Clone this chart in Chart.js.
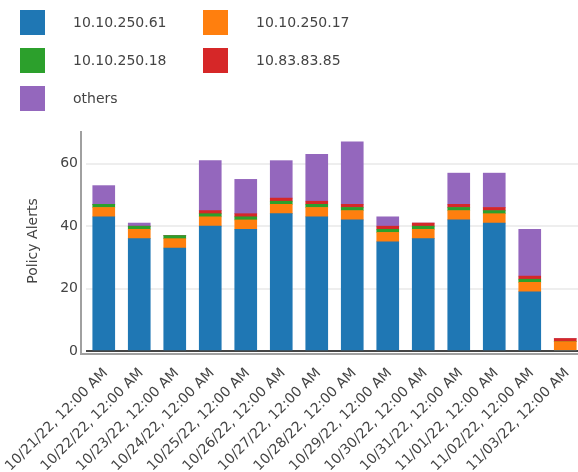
<!DOCTYPE html>
<html>
<head>
<meta charset="utf-8">
<script src="https://cdn.jsdelivr.net/npm/chart.js@4/dist/chart.umd.min.js"></script>
<style>
  html, body { margin: 0; padding: 0; background: #fff; width: 578px; height: 472px; overflow: hidden; }
  #wrap { position: absolute; left: 0; top: 0; width: 590px; height: 472px; }
</style>
</head>
<body>
<div id="wrap"><canvas id="chart" width="590" height="472"></canvas></div>
<script>
// Daily policy alerts per source host
const dates = [
  '10/21/22, 12:00 AM', '10/22/22, 12:00 AM', '10/23/22, 12:00 AM', '10/24/22, 12:00 AM',
  '10/25/22, 12:00 AM', '10/26/22, 12:00 AM', '10/27/22, 12:00 AM', '10/28/22, 12:00 AM',
  '10/29/22, 12:00 AM', '10/30/22, 12:00 AM', '10/31/22, 12:00 AM', '11/01/22, 12:00 AM',
  '11/02/22, 12:00 AM', '11/03/22, 12:00 AM'
];
const hostNames = ['10.10.250.61', '10.10.250.17', '10.10.250.18', '10.83.83.85', 'others'];
const host61 = [43, 36, 33, 40, 39, 44, 43, 42, 35, 36, 42, 41, 19, 0];
const host17 = [3, 3, 3, 3, 3, 3, 3, 3, 3, 3, 3, 3, 3, 3];
const host18 = [1, 1, 1, 1, 1, 1, 1, 1, 1, 1, 1, 1, 1, 0];
const host85 = [0, 0, 0, 1, 1, 1, 1, 1, 1, 1, 1, 1, 1, 1];
const others = [6, 1, 0, 16, 11, 12, 15, 20, 3, 0, 10, 11, 15, 0];
const yTicks = [0, 20, 40, 60];

const palette = ['#1f77b4', '#ff7f0e', '#2ca02c', '#d62728', '#9467bd'];
const seriesValues = [host61, host17, host18, host85, others];
const FONT = 'DejaVu Sans';
const TEXT = '#444';

// Two-column legend drawn above the plot
const gridLegend = {
  id: 'gridLegend',
  afterDraw(chart) {
    const ctx = chart.ctx;
    ctx.save();
    ctx.font = '14px "' + FONT + '"';
    ctx.textBaseline = 'middle';
    ctx.textAlign = 'left';
    chart.data.datasets.forEach((ds, i) => {
      const col = i % 2, row = Math.floor(i / 2);
      const bx = 20 + col * 183, by = 10 + row * 38;
      ctx.fillStyle = ds.backgroundColor;
      ctx.fillRect(bx, by, 25, 25);
      ctx.fillStyle = TEXT;
      ctx.fillText(ds.label, bx + 53, by + 13);
    });
    ctx.restore();
  }
};

// Axis lines set slightly apart from the plot area
const offsetAxes = {
  id: 'offsetAxes',
  afterDatasetsDraw(chart) {
    const { ctx, chartArea } = chart;
    const x0 = chartArea.left - 5;
    const yb = chartArea.bottom + 3;
    ctx.save();
    ctx.strokeStyle = '#a0a0a0';
    ctx.lineWidth = 2;
    ctx.beginPath();
    ctx.moveTo(x0, chartArea.top);
    ctx.lineTo(x0, yb + 1);
    ctx.moveTo(x0 - 1, yb);
    ctx.lineTo(chart.width, yb);
    ctx.stroke();
    ctx.restore();
  }
};

new Chart(document.getElementById('chart'), {
  type: 'bar',
  data: {
    labels: dates,
    datasets: hostNames.map((name, i) => ({
      label: name,
      data: seriesValues[i],
      backgroundColor: palette[i],
      borderWidth: 0,
      barThickness: 22
    }))
  },
  options: {
    responsive: false,
    devicePixelRatio: 1,
    animation: false,
    layout: { padding: { top: 131, right: 7, left: 0, bottom: 0 } },
    plugins: { legend: { display: false }, tooltip: { enabled: false } },
    scales: {
      x: {
        stacked: true,
        offset: true,
        grid: { display: false },
        border: { display: false },
        ticks: {
          minRotation: 45, maxRotation: 45, autoSkip: false,
          color: TEXT, font: { family: FONT, size: 14 }, padding: 6, labelOffset: 2
        },
        afterFit(scale) { scale.height = 121; scale.paddingLeft = 0; scale.paddingRight = 0; }
      },
      y: {
        stacked: true,
        min: 0,
        max: 70.5,
        afterBuildTicks(scale) { scale.ticks = yTicks.map(v => ({ value: v })); },
        grid: {
          drawTicks: false,
          color: c => (c.tick && c.tick.value === 0 ? '#444' : '#eeeeee'),
          lineWidth: 2
        },
        border: { display: false },
        ticks: { color: TEXT, font: { family: FONT, size: 14 }, padding: 8 },
        title: {
          display: true, text: 'Policy Alerts', color: TEXT,
          font: { family: FONT, size: 14 }, padding: { top: 24.6, bottom: 0 }
        },
        afterFit(scale) { scale.width = 86; }
      }
    }
  },
  plugins: [gridLegend, offsetAxes]
});
</script>
</body>
</html>
